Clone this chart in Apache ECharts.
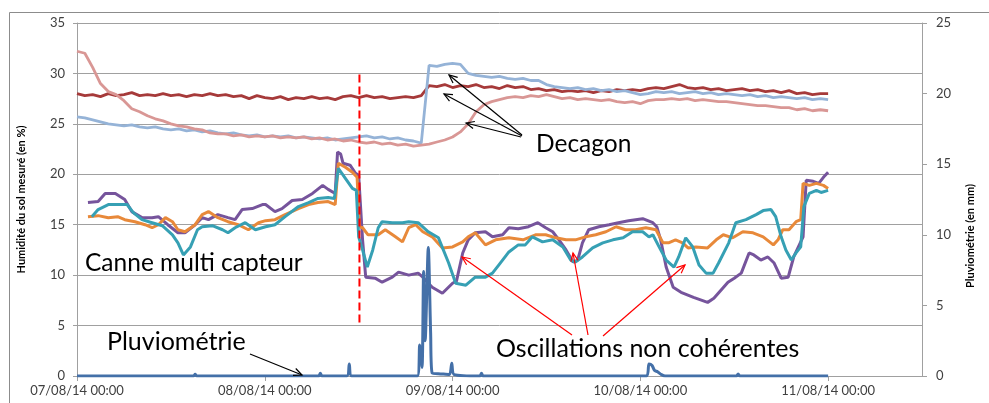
<!DOCTYPE html>
<html><head><meta charset="utf-8">
<script src="https://cdn.jsdelivr.net/npm/echarts@6/dist/echarts.min.js"></script>
<style>html,body{margin:0;padding:0;background:#fff}#c{width:989px;height:403px}</style>
</head><body><div id="c"></div>
<script>
// ---- Data (hours since 07/08/14 00:00) ----
const tickLabels = ['07/08/14 00:00','08/08/14 00:00','09/08/14 00:00','10/08/14 00:00','11/08/14 00:00'];
const tickHours = [0, 24, 48, 72, 96];
const hours = []; for (let h = 0; h <= 96; h++) hours.push(h);

// Decagon sensors (hourly)
const decagonDark = [
 28.0,27.8,27.9,27.7,28.0,27.8,27.9,28.1,27.8,27.9,
 27.8,28.0,27.8,27.9,27.7,27.9,27.8,28.0,27.8,27.9,
 27.7,27.8,27.5,27.8,27.6,27.5,27.7,27.4,27.6,27.5,
 27.7,27.5,27.6,27.4,27.7,27.8,27.6,27.8,27.6,27.7,
 27.5,27.6,27.7,27.6,27.8,28.8,28.7,28.9,28.6,28.8,
 28.7,28.9,28.6,28.7,28.5,28.8,28.6,28.7,28.4,28.5,
 28.3,28.4,28.2,28.3,28.2,28.3,28.1,28.3,28.2,28.4,
 28.3,28.4,28.3,28.5,28.6,28.5,28.7,28.9,28.6,28.5,
 28.6,28.4,28.5,28.3,28.4,28.5,28.3,28.4,28.2,28.3,
 28.1,28.3,28.0,28.1,27.9,28.0,28.0];
const decagonBlue = [
 25.7,25.6,25.4,25.2,25.0,24.9,24.8,24.9,24.7,24.6,
 24.7,24.5,24.4,24.5,24.3,24.4,24.2,24.3,24.1,24.0,
 24.1,23.9,23.8,23.9,23.7,23.8,23.7,23.8,23.6,23.7,
 23.6,23.5,23.6,23.4,23.5,23.6,23.7,23.8,23.6,23.7,
 23.5,23.6,23.4,23.3,23.1,30.8,30.7,30.9,31.0,30.9,
 30.0,29.8,29.7,29.6,29.7,29.5,29.4,29.5,29.3,29.3,
 28.9,28.7,28.6,28.5,28.6,28.4,28.5,28.3,28.4,28.2,
 28.3,28.1,27.9,28.0,28.2,28.1,28.2,28.0,28.1,28.2,
 28.0,28.1,27.9,28.0,27.9,27.8,27.9,27.7,27.8,27.6,
 27.7,27.6,27.5,27.6,27.4,27.5,27.4];
const decagonPink = [
 32.2,32.0,30.6,29.0,28.2,27.9,27.3,26.5,26.2,25.8,
 25.5,25.3,25.0,24.8,24.7,24.5,24.4,24.1,24.0,24.0,
 23.8,23.9,23.7,23.8,23.7,23.8,23.6,23.7,23.6,23.7,
 23.5,23.6,23.4,23.5,23.3,23.4,23.2,23.1,23.2,23.0,
 23.1,22.9,23.0,22.8,22.9,23.0,23.2,23.4,23.7,24.2,
 25.0,26.2,26.9,27.2,27.4,27.6,27.7,27.6,27.8,27.7,
 27.9,27.7,27.5,27.6,27.4,27.5,27.4,27.3,27.4,27.2,
 27.1,27.2,27.0,27.3,27.4,27.4,27.5,27.4,27.5,27.3,
 27.4,27.3,27.2,27.2,27.1,27.0,26.9,26.8,26.8,26.7,
 26.6,26.6,26.4,26.5,26.3,26.4,26.3];

// Canne multi capteur: [hour, %]
const cannePurple = [[1.4,17.2],[2.7,17.3],[3.6,18.1],[4.9,18.1],[6.1,17.5],[7.0,16.3],[8.3,15.7],[9.6,15.7],[10.4,15.8],[11.6,15.0],[12.9,14.2],[13.8,14.2],[15.1,15.0],[16.0,15.7],[16.8,15.5],[18.0,16.0],[19.3,15.7],[20.2,15.5],[21.1,16.5],[22.4,16.6],[23.7,17.0],[24.1,17.0],[25.3,16.3],[26.2,16.6],[27.5,17.4],[28.8,17.5],[30.1,18.1],[31.4,18.9],[32.1,18.5],[33.0,18.1],[33.3,22.2],[33.7,22.0],[34.0,21.1],[34.9,20.9],[35.6,20.1],[36.0,19.9],[36.5,13.5],[36.9,9.8],[38.1,9.7],[39.0,9.3],[40.3,9.8],[41.1,10.3],[42.4,10.0],[43.6,10.2],[44.2,9.8],[45.4,8.8],[46.7,8.2],[48.0,9.2],[48.5,9.4],[49.3,12.2],[50.0,13.5],[50.9,14.2],[52.2,14.3],[53.1,13.8],[54.4,14.0],[55.2,14.7],[56.4,14.6],[57.7,14.8],[58.9,15.2],[59.9,14.7],[60.8,14.3],[61.6,13.5],[62.5,12.5],[63.4,11.3],[64.0,11.5],[64.6,13.2],[65.4,14.5],[66.7,14.8],[68.0,15.0],[69.2,15.2],[70.5,15.4],[72.3,15.6],[73.6,15.2],[74.1,14.8],[74.6,13.5],[75.3,10.8],[76.2,8.8],[77.2,8.3],[78.8,7.8],[80.6,7.3],[81.4,7.7],[83.2,9.3],[84.0,9.7],[84.9,10.2],[85.9,12.2],[86.5,12.0],[87.4,11.5],[88.3,11.8],[89.1,11.2],[90.0,9.7],[90.9,9.8],[91.6,11.8],[92.8,13.8],[93.2,19.4],[94.1,19.3],[94.8,19.1],[95.4,19.7],[96.0,20.2]];
const canneOrange = [[1.4,15.8],[2.7,15.9],[4.0,15.7],[5.2,15.8],[6.1,15.5],[7.4,15.3],[8.7,15.0],[9.6,14.7],[10.4,15.0],[11.3,15.7],[12.2,15.3],[12.9,14.5],[13.8,14.3],[15.1,15.0],[16.0,16.0],[16.8,16.3],[18.0,15.7],[19.3,15.3],[20.6,15.0],[21.9,14.5],[23.2,15.2],[24.1,15.4],[25.3,15.5],[26.6,16.0],[28.3,16.6],[29.6,17.0],[30.8,17.2],[32.1,17.3],[33.0,17.0],[33.4,21.1],[34.3,20.7],[35.2,20.2],[35.8,19.7],[36.1,14.8],[36.5,14.7],[37.2,14.0],[38.5,14.0],[39.4,14.5],[40.7,13.8],[41.6,13.3],[42.4,14.7],[43.3,15.0],[44.2,14.3],[45.4,13.8],[46.7,12.7],[48.0,12.8],[49.3,13.3],[50.0,13.8],[50.9,14.2],[52.2,13.0],[53.5,13.5],[55.2,13.7],[57.0,13.5],[58.6,14.0],[59.9,14.0],[61.2,13.7],[62.5,13.5],[63.7,13.5],[65.0,13.8],[66.3,14.0],[67.6,14.3],[68.9,14.8],[70.1,14.5],[71.4,14.5],[72.7,14.7],[74.0,14.5],[74.9,13.2],[75.6,13.2],[76.5,13.5],[77.4,13.2],[78.1,12.7],[79.1,12.8],[80.6,12.7],[81.7,13.5],[82.6,14.0],[83.8,13.7],[85.1,14.3],[86.4,14.2],[87.7,13.8],[89.0,13.0],[89.6,13.5],[90.2,14.5],[91.0,14.5],[91.9,15.3],[92.5,15.5],[92.8,19.1],[93.6,18.9],[94.5,19.1],[95.4,18.9],[96.0,18.6]];
const canneTeal = [[1.9,15.8],[2.7,16.5],[4.0,17.0],[5.2,17.0],[6.4,17.0],[7.2,16.2],[8.3,15.5],[9.6,15.2],[10.9,14.9],[12.2,14.0],[12.9,13.2],[13.6,12.0],[14.5,12.8],[15.4,14.5],[16.0,14.8],[17.3,14.9],[18.6,14.5],[19.3,14.2],[20.2,14.7],[21.5,15.2],[22.8,14.5],[24.1,14.8],[25.3,15.0],[26.6,15.8],[28.3,16.8],[29.6,17.2],[30.8,17.6],[32.1,17.7],[32.9,17.6],[33.4,20.6],[34.3,19.6],[35.2,18.6],[35.7,18.4],[36.0,13.8],[36.5,12.5],[37.1,10.8],[37.8,12.5],[38.5,14.7],[39.0,15.3],[40.3,15.2],[41.6,15.2],[42.4,15.3],[43.6,15.2],[44.9,14.3],[46.2,13.7],[47.5,11.2],[48.4,9.2],[49.7,9.0],[50.9,9.8],[52.2,9.8],[53.1,10.2],[53.9,11.0],[55.2,12.3],[56.4,13.0],[57.3,13.0],[58.2,13.8],[59.5,13.3],[60.8,13.5],[62.1,12.8],[63.1,11.5],[63.7,11.3],[64.6,11.8],[65.9,12.7],[67.2,13.2],[68.5,13.5],[69.8,13.7],[71.0,14.3],[72.3,14.3],[73.1,13.8],[73.6,14.0],[74.4,12.8],[75.3,11.5],[76.3,10.8],[76.9,11.8],[77.8,13.7],[78.7,12.8],[79.5,11.0],[80.4,10.2],[81.3,10.2],[82.0,11.2],[83.3,13.2],[84.2,15.2],[85.5,15.5],[86.8,16.0],[87.7,16.4],[88.7,16.5],[89.3,15.8],[90.0,13.8],[90.6,12.5],[91.3,11.5],[91.9,12.2],[92.5,12.8],[92.9,16.8],[93.6,18.1],[94.5,18.4],[95.1,18.2],[96.0,18.4]];

// Pluviométrie (mm): [hour, mm]
const pluvio = [[0,0],[14.9,0],[15.1,0.12],[15.3,0],[30.9,0],[31.1,0.2],[31.3,0],[34.5,0],[34.8,0.85],[35.1,0],[43.5,0],[43.8,2.2],[44.1,0.6],[44.3,7.4],[44.5,2.5],[44.9,9.1],[45.2,3.0],[45.4,0.2],[46.5,0.15],[47.6,0.1],[47.9,0.9],[48.2,0.1],[51.5,0],[51.7,0.2],[51.9,0],[72.8,0],[73.1,0.85],[73.5,0.75],[73.8,0.4],[74.2,0.3],[74.7,0.1],[75.2,0],[84.3,0],[84.5,0.15],[84.7,0],[96,0]];

// Change event (08/08/14 12:00), dashed marker
const eventHour = 36.1;
const eventRange = [5.3, 30.1];

// ---- Styles ----
const FONT = 'Lato, "Liberation Sans", sans-serif';
const colors = {dark:'#A63A3A', blue:'#95B3D7', pink:'#D99795', purple:'#76549C', orange:'#E8893A', teal:'#36A0B4', rain:'#4470A8'};

function pairs(vals){ return hours.map((h,i)=>[h, vals[i]]); }
function lineSeries(name, data, color, width, extra){
  return Object.assign({name, type:'line', data, showSymbol:false, symbol:'none',
    lineStyle:{color, width}, itemStyle:{color}, z:2, animation:false}, extra||{});
}

// annotation arrows (pixel coords)
function arrow(x1,y1,x2,y2,color){
  const a = Math.atan2(y2-y1, x2-x1), L = 9, s = 0.42;
  const p1 = [x2 - L*Math.cos(a-s), y2 - L*Math.sin(a-s)];
  const p2 = [x2 - L*Math.cos(a+s), y2 - L*Math.sin(a+s)];
  return [
    {type:'line', shape:{x1,y1,x2,y2}, style:{stroke:color, lineWidth:1.2}, z:100},
    {type:'polyline', shape:{points:[p1,[x2,y2],p2]}, style:{stroke:color, lineWidth:1.2, fill:null}, z:100}
  ];
}
const blackArrows = [[250,354,302,375],[522,135,449,75],[522,136,444,94],[521,137,466,123]];
const redArrows = [[572,335,462,257],[588,335,573,253],[603,336,685,265]];

const graphics = [
  {type:'rect', shape:{x:9.5,y:12.5,width:1000,height:400}, style:{stroke:'#8C8C8C', fill:null, lineWidth:1}, z:-1},
  {type:'text', left:85, top:251, style:{text:'Canne multi capteur', font:'24.5px '+FONT, fill:'#000'}, z:100},
  {type:'text', left:107, top:329, style:{text:'Pluviométrie', font:'25px '+FONT, fill:'#000'}, z:100},
  {type:'text', left:536, top:132, style:{text:'Decagon', font:'24.5px '+FONT, fill:'#000'}, z:100},
  {type:'text', left:496, top:336, style:{text:'Oscillations non cohérentes', font:'25px '+FONT, fill:'#000'}, z:100},
  {type:'text', x:970, y:236, rotation:Math.PI/2, style:{text:'Pluviométrie (en mm)', font:'bold 11px '+FONT, fill:'#000', align:'center', verticalAlign:'middle'}, z:100}
];
blackArrows.forEach(a=>graphics.push(...arrow(a[0],a[1],a[2],a[3],'#000')));
redArrows.forEach(a=>graphics.push(...arrow(a[0],a[1],a[2],a[3],'#FF0000')));

const chart = echarts.init(document.getElementById('c'), null, {renderer:'canvas'});
chart.setOption({
  animation:false,
  backgroundColor:'#fff',
  textStyle:{fontFamily:FONT},
  grid:{left:77, right:67, top:23, bottom:27, containLabel:false},
  xAxis:{type:'value', min:0, max:108, interval:24,
    axisLine:{lineStyle:{color:'#A0A0A0'}},
    axisTick:{show:true, customValues:tickHours, length:5, lineStyle:{color:'#A0A0A0'}},
    axisLabel:{customValues:tickHours, formatter:v=>tickLabels[Math.round(v/24)], color:'#404040', fontSize:13, margin:8, fontFamily:FONT},
    splitLine:{show:false}},
  yAxis:[
    {type:'value', min:0, max:35, interval:5, position:'left',
      name:'Humidité du sol mesuré (en %)', nameLocation:'middle', nameGap:50,
      nameTextStyle:{fontWeight:'bold', fontSize:11, color:'#000', fontFamily:FONT},
      axisLine:{show:true, lineStyle:{color:'#A0A0A0'}},
      axisTick:{show:true, length:4, lineStyle:{color:'#A0A0A0'}},
      axisLabel:{color:'#404040', fontSize:13, margin:12, fontFamily:FONT},
      splitLine:{lineStyle:{color:'#A0A0A0', width:1}}},
    {type:'value', min:0, max:25, interval:5, position:'right',
      axisLine:{show:true, lineStyle:{color:'#A0A0A0'}},
      axisTick:{show:true, length:5, lineStyle:{color:'#A0A0A0'}},
      axisLabel:{color:'#404040', fontSize:13, margin:14, fontFamily:FONT},
      splitLine:{show:false}}
  ],
  series:[
    lineSeries('Decagon 1', pairs(decagonDark), colors.dark, 2.8),
    lineSeries('Decagon 2', pairs(decagonBlue), colors.blue, 2.8),
    lineSeries('Decagon 3', pairs(decagonPink), colors.pink, 2.8),
    lineSeries('Canne violet', cannePurple, colors.purple, 3),
    lineSeries('Canne orange', canneOrange, colors.orange, 3),
    lineSeries('Canne bleu', canneTeal, colors.teal, 3),
    lineSeries('Pluviométrie', pluvio, colors.rain, 3, {yAxisIndex:1, smooth:0.25, z:3}),
    lineSeries('Événement', [[eventHour, eventRange[0]],[eventHour, eventRange[1]]], '#FF0000', 2, {z:4, lineStyle:{color:'#FF0000', width:2, type:[8,4]}})
  ],
  graphic:graphics
});
</script></body></html>
